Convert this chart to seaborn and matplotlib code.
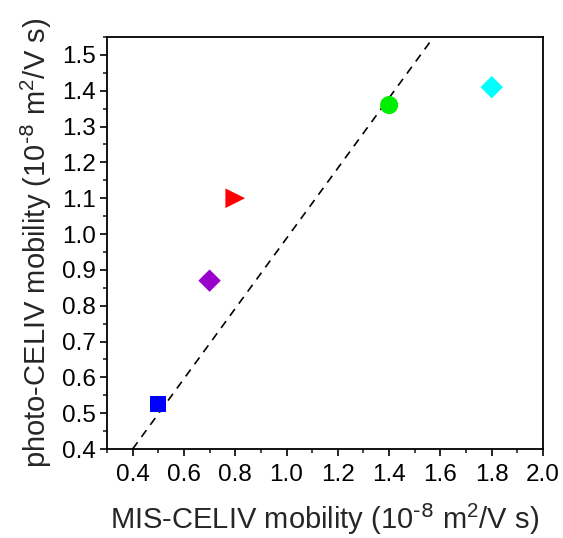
import matplotlib
matplotlib.use("Agg")
import matplotlib.pyplot as plt
from matplotlib.ticker import MultipleLocator
import seaborn as sns
import pandas as pd

# Mobility of each sample measured by the two techniques (10^-8 m^2/V s)
samples = ["A", "B", "C", "D", "E"]
mis_celiv = [0.5, 0.7, 0.8, 1.4, 1.8]
photo_celiv = [0.525, 0.87, 1.10, 1.36, 1.41]
markers = ["s", "D", ">", "o", "D"]
colors = ["#0000ff", "#9900cc", "#ff0000", "#00ee00", "#00ffff"]
sizes = [140, 130, 200, 170, 130]

# Guide line through the data
guide_x = [0.4, 1.6]
guide_y = [0.4, 1.576]

sns.set_theme(style="white")
plt.rcParams["font.family"] = ["Liberation Sans", "DejaVu Sans"]
plt.rcParams["mathtext.default"] = "regular"

fig = plt.figure(figsize=(5.63, 5.38), dpi=100)
ax = fig.add_axes([0.190, 0.1654, 0.7745, 0.7658])

guide = pd.DataFrame({"x": guide_x, "y": guide_y})
sns.lineplot(data=guide, x="x", y="y", ax=ax, color="black",
             linestyle=(0, (5, 4)), linewidth=1.2)

df = pd.DataFrame({"sample": samples, "x": mis_celiv, "y": photo_celiv})
for s, m, c, sz in zip(samples, markers, colors, sizes):
    sns.scatterplot(data=df[df["sample"] == s], x="x", y="y", ax=ax,
                    marker=m, color=c, s=sz, edgecolor="none", zorder=3)

ax.set_xlim(0.3, 2.0)
ax.set_ylim(0.4, 1.55)
ax.xaxis.set_minor_locator(MultipleLocator(0.1))
ax.yaxis.set_minor_locator(MultipleLocator(0.05))
ax.set_xticks([0.4, 0.6, 0.8, 1.0, 1.2, 1.4, 1.6, 1.8, 2.0])
ax.set_xticklabels(["0.4", "0.6", "0.8", "1.0", "1.2", "1.4", "1.6", "1.8", "2.0"])
ax.set_yticks([0.4, 0.5, 0.6, 0.7, 0.8, 0.9, 1.0, 1.1, 1.2, 1.3, 1.4, 1.5])
ax.set_yticklabels(["0.4", "0.5", "0.6", "0.7", "0.8", "0.9", "1.0",
                    "1.1", "1.2", "1.3", "1.4", "1.5"])

ax.tick_params(which="major", direction="out", length=5, width=1.2,
               labelsize=17.5, colors="black", bottom=True, left=True, pad=3)
ax.tick_params(axis="x", which="major", pad=6)
ax.tick_params(which="minor", direction="out", length=3, width=1.2,
               bottom=True, left=True)
for sp in ax.spines.values():
    sp.set_linewidth(1.3)
    sp.set_color("black")

label_unit = r"(10$^{\text{-8}}$ m$^{2}$/V s)"
ax.set_xlabel("MIS-CELIV mobility " + label_unit, fontsize=21, labelpad=11)
ax.set_ylabel("photo-CELIV mobility " + label_unit, fontsize=21, labelpad=6)

fig.savefig("out.png", dpi=100)
